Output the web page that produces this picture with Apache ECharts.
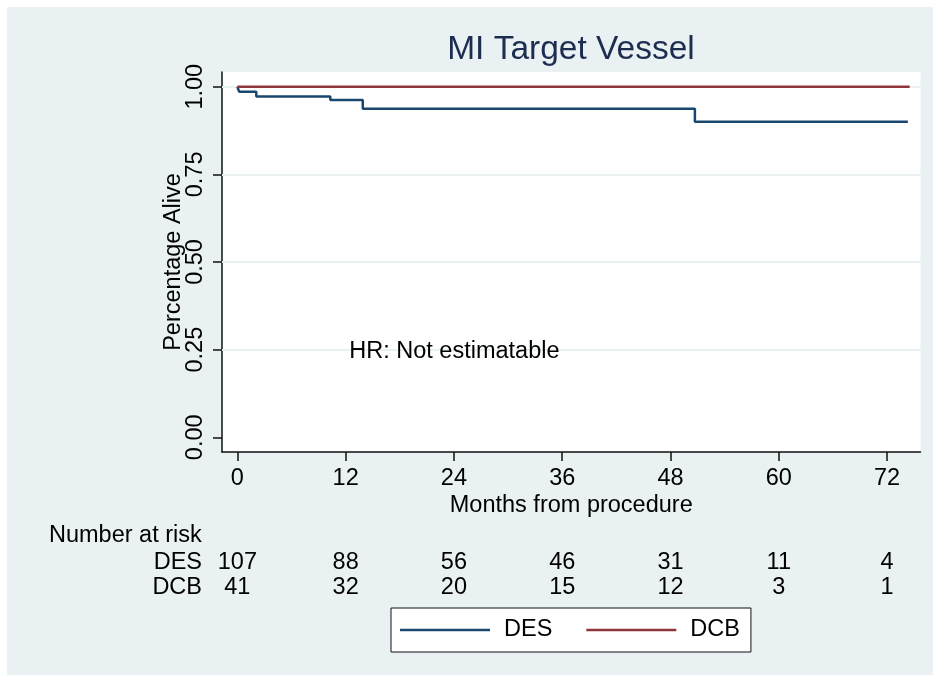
<!DOCTYPE html>
<html>
<head>
<meta charset="utf-8">
<script src="https://cdn.jsdelivr.net/npm/echarts@6/dist/echarts.min.js"></script>
<style>
  html, body { margin: 0; padding: 0; background: #fff; }
  #chart { width: 940px; height: 681px; }
</style>
</head>
<body>
<div id="chart"></div>
<script>
// x ticks (months) and number at risk under each tick
const months = [0, 12, 24, 36, 48, 60, 72]
const desAtRisk = [107, 88, 56, 46, 31, 11, 4]
const dcbAtRisk = [41, 32, 20, 15, 12, 3, 1]
const yTicks = [0, 0.25, 0.5, 0.75, 1]
const yGrid = [0.25, 0.5, 0.75, 1]

// Kaplan-Meier steps
const desTime = [0, 0.2, 2.1, 10.3, 13.9, 50.7, 74.3]
const desSurv = [1, 0.986, 0.972, 0.962, 0.937, 0.900, 0.900]
const dcbTime = [0, 74.5]
const dcbSurv = [1, 1]

const FONT = '"Liberation Sans", Arial, sans-serif'
const FS = 23.5
const BG = '#eaf1f3'
const BLUE = '#1a476f'
const RED = '#90353b'

const chart = echarts.init(document.getElementById('chart'))

const option = {
  animation: false,
  backgroundColor: '#fff',
  textStyle: { fontFamily: FONT },
  title: {
    text: 'MI Target Vessel',
    left: 566,
    top: 28,
    textAlign: 'center',
    textStyle: { fontSize: 33.5, fontWeight: 'normal', color: '#1c2d50', fontFamily: FONT }
  },
  legend: {
    left: 391,
    top: 608,
    icon: 'rect',
    itemWidth: 90,
    itemHeight: 2.5,
    itemGap: 34,
    padding: [10, 11, 10, 9],
    backgroundColor: '#fff',
    borderColor: '#111',
    borderWidth: 1,
    borderRadius: 0,
    textStyle: { fontSize: FS, color: '#000', fontFamily: FONT, padding: [0, 0, 0, 9], lineHeight: 24 },
    data: ['DES', 'DCB']
  },
  grid: {
    left: 222,
    right: 19.5,
    top: 72,
    bottom: 229,
    containLabel: false,
    outerBoundsMode: 'none',
    show: true,
    backgroundColor: '#fff',
    borderWidth: 0
  },
  xAxis: {
    type: 'value',
    min: -1.7,
    max: 75.7,
    name: 'Months from procedure',
    nameLocation: 'middle',
    nameGap: 42,
    nameMoveOverlap: false,
    nameTextStyle: { fontSize: FS, color: '#000', fontFamily: FONT, verticalAlign: 'top' },
    axisLine: { show: true, onZero: false, lineStyle: { color: '#111', width: 1.5 } },
    axisTick: { show: true, inside: false, length: 9, customValues: months, lineStyle: { color: '#111', width: 1.5 } },
    axisLabel: { customValues: months, fontSize: FS, color: '#000', margin: 15, fontFamily: FONT },
    splitLine: { show: false }
  },
  yAxis: {
    type: 'value',
    min: -0.042,
    max: 1.042,
    name: 'Percentage Alive',
    nameLocation: 'middle',
    nameRotate: 90,
    nameGap: 36,
    nameMoveOverlap: false,
    nameTextStyle: { fontSize: FS, color: '#000', fontFamily: FONT },
    axisLine: { show: true, onZero: false, lineStyle: { color: '#111', width: 1.5 } },
    axisTick: { show: true, inside: false, length: 9, customValues: yTicks, lineStyle: { color: '#111', width: 1.5 } },
    axisLabel: {
      customValues: yTicks,
      rotate: 90,
      fontSize: FS,
      color: '#000',
      margin: 14,
      fontFamily: FONT,
      formatter: v => v.toFixed(2)
    },
    splitLine: { show: false }
  },
  series: [
    {
      name: 'DES',
      type: 'line',
      step: 'end',
      symbol: 'none',
      color: BLUE,
      lineStyle: { color: BLUE, width: 2.5 },
      data: desTime.map((t, i) => [t, desSurv[i]]),
      markLine: {
        silent: true,
        symbol: 'none',
        label: { show: false },
        lineStyle: { color: BG, width: 2, type: 'solid' },
        data: yGrid.map(v => ({ yAxis: v })),
        z: 1
      },
      z: 3
    },
    {
      name: 'DCB',
      type: 'line',
      symbol: 'none',
      color: RED,
      lineStyle: { color: RED, width: 2.5 },
      data: dcbTime.map((t, i) => [t, dcbSurv[i]]),
      z: 4
    }
  ],
  graphic: []
}

chart.setOption(option)

// texts placed through the axis scales
function xPix(m) {
  return chart.convertToPixel({ xAxisIndex: 0 }, m)
}
function txt(text, x, y, align) {
  return {
    type: 'text',
    silent: true,
    z: 100,
    style: { text: text, x: x, y: y, align: align, verticalAlign: 'middle', fontSize: FS, fontFamily: FONT, fill: '#000' }
  }
}

const graphics = [
  {
    type: 'rect',
    silent: true,
    z: -10,
    shape: { x: 7, y: 7, width: 926, height: 668 },
    style: { fill: BG }
  }
]
const hrPos = chart.convertToPixel({ gridIndex: 0 }, [12.4, 0.25])
graphics.push(txt('HR: Not estimatable', hrPos[0], hrPos[1] + 2, 'left'))
graphics.push(txt('Number at risk', 49, 536, 'left'))
graphics.push(txt('DES', 202, 563, 'right'))
graphics.push(txt('DCB', 202, 588, 'right'))
months.forEach((m, i) => {
  graphics.push(txt(String(desAtRisk[i]), xPix(m), 563, 'center'))
  graphics.push(txt(String(dcbAtRisk[i]), xPix(m), 588, 'center'))
})

chart.setOption({ graphic: graphics })
</script>
</body>
</html>
